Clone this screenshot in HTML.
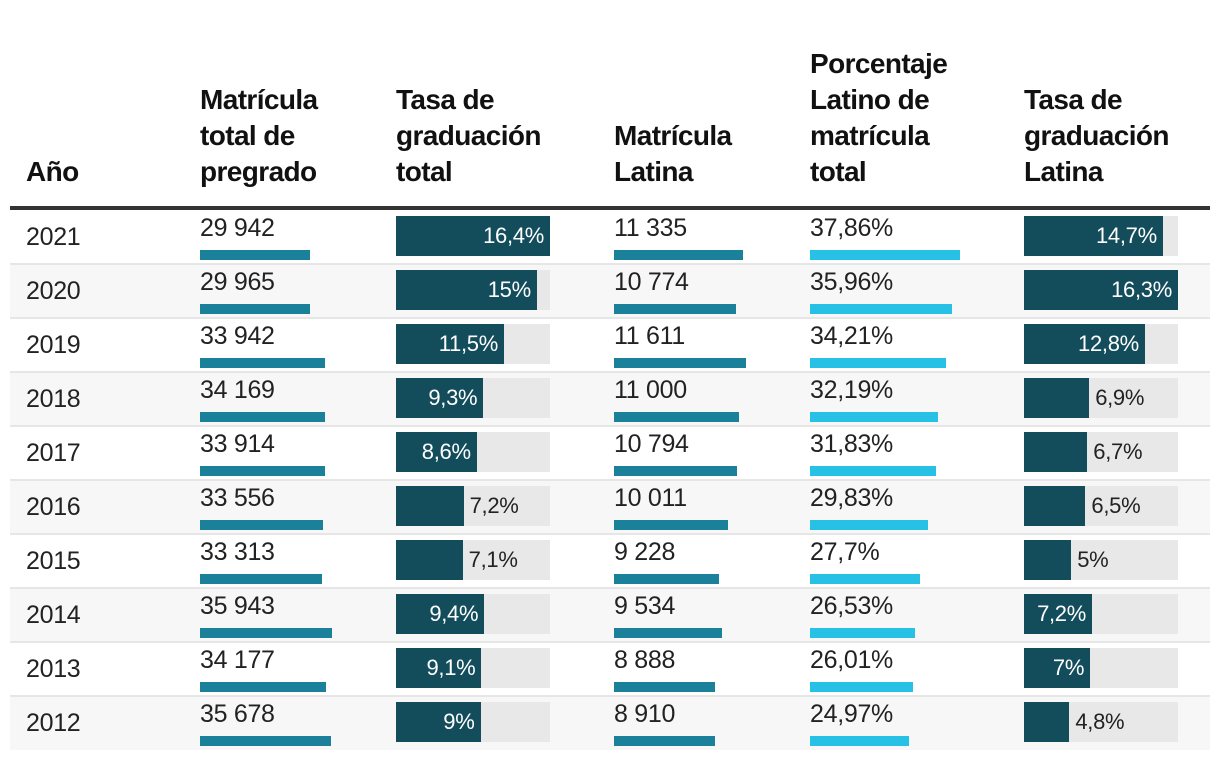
<!DOCTYPE html>
<html><head><meta charset="utf-8"><style>
body{margin:0;width:1220px;height:758px;background:#fff;font-family:"Liberation Sans",sans-serif;color:#222;position:relative;overflow:hidden}
.h{position:absolute;font-weight:bold;font-size:28px;line-height:36px;color:#111;letter-spacing:-0.6px}
.a{position:absolute}
.t{position:absolute;font-size:23px;line-height:28px;white-space:nowrap;letter-spacing:-0.3px}
</style></head><body>
<div class="h" style="left:26px;top:154px">Año</div>
<div class="h" style="left:200px;top:82px">Matrícula<br>total de<br>pregrado</div>
<div class="h" style="left:396px;top:82px">Tasa de<br>graduación<br>total</div>
<div class="h" style="left:614px;top:118px">Matrícula<br>Latina</div>
<div class="h" style="left:810px;top:46px">Porcentaje<br>Latino de<br>matrícula<br>total</div>
<div class="h" style="left:1024px;top:82px">Tasa de<br>graduación<br>Latina</div>
<div class="a" style="left:10px;top:206px;width:1200px;height:4px;background:#333"></div>
<div id="rows"></div>
<script>
const years=[2021,2020,2019,2018,2017,2016,2015,2014,2013,2012];
const totalEnroll=[29942,29965,33942,34169,33914,33556,33313,35943,34177,35678];
const totalGrad=[16.4,15,11.5,9.3,8.6,7.2,7.1,9.4,9.1,9];
const latEnroll=[11335,10774,11611,11000,10794,10011,9228,9534,8888,8910];
const latPct=[37.86,35.96,34.21,32.19,31.83,29.83,27.7,26.53,26.01,24.97];
const latGrad=[14.7,16.3,12.8,6.9,6.7,6.5,5,7.2,7,4.8];
const root=document.getElementById('rows');
const fmtN=v=>String(v).replace(/\B(?=(\d{3})+(?!\d))/g,' ');
const fmtP=v=>String(v).replace('.',',')+'%';
const mk=(cls,style,txt)=>{const d=document.createElement('div');d.className=cls;d.style.cssText=style;if(txt!=null)d.textContent=txt;root.appendChild(d);return d;};
const maxTE=Math.max(...totalEnroll),maxTG=Math.max(...totalGrad),maxLE=Math.max(...latEnroll),maxLP=Math.max(...latPct),maxLG=Math.max(...latGrad);
function gradCell(x,top,v,max,th,nm){
  const W=154,w=v/max*W;
  let e=mk('a',`left:${x}px;top:${top+6}px;width:${W}px;height:40px;background:#e8e8e8`);
  
  
  e=mk('a',`left:${x}px;top:${top+6}px;width:${w}px;height:40px;background:#134d5c`);
  
  
  if(v>=th){
    e=mk('t',`left:${x}px;width:${w-6}px;text-align:right;top:${top+12}px;color:#fff;font-size:22px`,fmtP(v));
  }else{
    e=mk('t',`left:${x+w+6}px;top:${top+12}px;font-size:22px;color:#222`,fmtP(v));
  }
  
  
}
years.forEach((y,i)=>{
  const top=210+i*54;
  let e;
  if(i%2===1){e=mk('a',`left:10px;top:${top}px;width:1200px;height:54px;background:#f7f7f7`);
    
    }
  if(i>0){e=mk('a',`left:10px;top:${top-1}px;width:1200px;height:2px;background:#e6e6e6`);
    
    }
  e=mk('t',`left:26px;top:${top+13}px;font-size:25px`,String(y));
  
  
  e=mk('t',`left:200px;top:${top+4}px;font-size:25px`,fmtN(totalEnroll[i]));
  
  
  e=mk('a',`left:200px;top:${top+40}px;width:${totalEnroll[i]/maxTE*132}px;height:10px;background:#1b819a`);
  
  
  gradCell(396,top,totalGrad[i],maxTG,8,'total-grad');
  e=mk('t',`left:614px;top:${top+4}px;font-size:25px`,fmtN(latEnroll[i]));
  
  
  e=mk('a',`left:614px;top:${top+40}px;width:${latEnroll[i]/maxLE*132}px;height:10px;background:#1b819a`);
  
  
  e=mk('t',`left:810px;top:${top+4}px;font-size:25px`,fmtP(latPct[i]));
  
  
  e=mk('a',`left:810px;top:${top+40}px;width:${latPct[i]/maxLP*150}px;height:10px;background:#27c1e6`);
  
  
  gradCell(1024,top,latGrad[i],maxLG,7,'latino-grad');
});
</script>
</body></html>
